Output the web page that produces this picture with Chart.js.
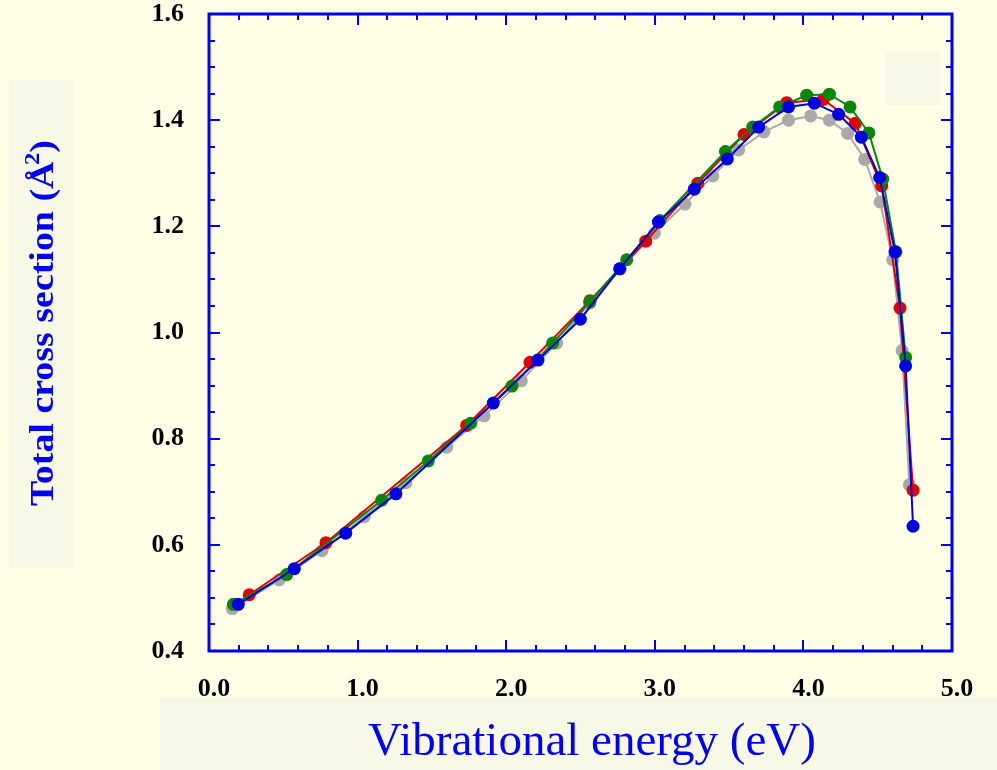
<!DOCTYPE html>
<html>
<head>
<meta charset="utf-8">
<script src="https://cdn.jsdelivr.net/npm/chart.js@4.4.1/dist/chart.umd.min.js"></script>
<style>
  html, body { margin: 0; padding: 0; background: #ffffe8; }
  canvas { display: block; }
</style>
</head>
<body>
<canvas id="chart" width="997" height="770"></canvas>
<script>
// values (x = vibrational energy eV, y = cross section)
const grayX = [0.157, 0.473, 0.760, 1.045, 1.326, 1.600, 1.851, 2.102, 2.340, 2.560, 2.770, 2.997, 3.203, 3.390, 3.565, 3.735, 3.900, 4.049, 4.175, 4.298, 4.413, 4.516, 4.601, 4.664, 4.713];
const grayY = [0.480, 0.534, 0.589, 0.653, 0.717, 0.784, 0.843, 0.909, 0.980, 1.055, 1.120, 1.187, 1.242, 1.295, 1.344, 1.378, 1.400, 1.408, 1.400, 1.375, 1.326, 1.246, 1.137, 0.966, 0.713];

const redX = [0.271, 0.787, 1.734, 2.160, 2.564, 2.939, 3.289, 3.600, 3.888, 4.134, 4.349, 4.527, 4.650, 4.738];
const redY = [0.506, 0.604, 0.825, 0.944, 1.060, 1.172, 1.281, 1.373, 1.433, 1.439, 1.394, 1.276, 1.046, 0.703];

const greenX = [0.164, 0.523, 1.162, 1.476, 1.761, 2.039, 2.313, 2.564, 2.811, 3.035, 3.475, 3.659, 3.840, 4.022, 4.175, 4.314, 4.441, 4.534, 4.623, 4.688];
const greenY = [0.488, 0.544, 0.684, 0.758, 0.829, 0.899, 0.980, 1.058, 1.137, 1.211, 1.341, 1.387, 1.425, 1.447, 1.449, 1.425, 1.376, 1.289, 1.152, 0.953];

const blueX = [0.197, 0.574, 0.920, 1.258, 1.913, 2.214, 2.499, 2.763, 3.024, 3.266, 3.488, 3.699, 3.900, 4.074, 4.237, 4.390, 4.513, 4.616, 4.688, 4.738];
const blueY = [0.488, 0.555, 0.622, 0.696, 0.867, 0.948, 1.025, 1.120, 1.208, 1.270, 1.327, 1.387, 1.425, 1.432, 1.411, 1.368, 1.292, 1.152, 0.937, 0.635];

const xTicks = [0, 1, 2, 3, 4, 5];
const yTicks = [0.4, 0.6, 0.8, 1.0, 1.2, 1.4, 1.6];

const AXIS = "#0000ee";
const PATCH = "#f8f8e6";
const SERIF = '"Liberation Serif", "Times New Roman", serif';

const toPoints = (xs, ys) => xs.map((x, i) => ({ x: x, y: ys[i] }));

const series = (pts, color) => ({
  data: pts,
  showLine: true,
  borderColor: color,
  backgroundColor: color,
  borderWidth: 2,
  pointRadius: 6.5,
  pointBorderWidth: 0,
  pointHoverRadius: 6.5,
  tension: 0,
});

// patches, frame with inward ticks, axis titles
const decorations = {
  id: "decorations",
  beforeDraw(chart) {
    const ctx = chart.ctx;
    ctx.save();
    ctx.fillStyle = "#ffffe8";
    ctx.fillRect(0, 0, chart.width, chart.height);
    ctx.fillStyle = PATCH;
    ctx.fillRect(9, 80, 65, 488);
    ctx.fillRect(160, 698, 837, 72);
    ctx.fillRect(885, 51, 55, 54);
    ctx.restore();
  },
  afterDraw(chart) {
    const { ctx, chartArea: a } = chart;
    const { x, y } = chart.scales;
    ctx.save();
    ctx.strokeStyle = AXIS;
    ctx.lineWidth = 2;
    ctx.beginPath();
    for (let i = 0; i <= 25; i++) {
      const px = Math.round(x.getPixelForValue(i * 0.2));
      const len = i % 5 === 0 ? 11 : 6;
      ctx.moveTo(px, a.bottom);
      ctx.lineTo(px, a.bottom - len);
      ctx.moveTo(px, a.top);
      ctx.lineTo(px, a.top + len);
    }
    for (let i = 8; i <= 32; i++) {
      const py = Math.round(y.getPixelForValue(i * 0.05));
      const len = i % 4 === 0 ? 11 : 6;
      ctx.moveTo(a.left, py);
      ctx.lineTo(a.left + len, py);
      ctx.moveTo(a.right, py);
      ctx.lineTo(a.right - len, py);
    }
    ctx.stroke();
    ctx.lineWidth = 3;
    ctx.strokeRect(a.left, a.top, a.right - a.left, a.bottom - a.top);

    // x title
    ctx.fillStyle = AXIS;
    ctx.font = "47px " + SERIF;
    ctx.textAlign = "center";
    ctx.textBaseline = "alphabetic";
    ctx.fillText("Vibrational energy (eV)", 592, 755);

    // y title, rotated, stretched along its length like the reference
    const main = "Total cross section (Å";
    ctx.font = "bold 34px " + SERIF;
    const w1 = ctx.measureText(main).width - 3;
    const w3 = ctx.measureText(")").width;
    ctx.font = "bold 22px " + SERIF;
    const w2 = ctx.measureText("2").width;
    const total = w1 + w2 + w3;
    const stretch = 366 / total;
    ctx.translate(53, 323);
    ctx.rotate(-Math.PI / 2);
    ctx.scale(stretch, 1);
    ctx.textAlign = "left";
    let cx = -total / 2;
    ctx.font = "bold 34px " + SERIF;
    ctx.fillText(main, cx, 0);
    cx += w1;
    ctx.font = "bold 22px " + SERIF;
    ctx.fillText("2", cx, -14);
    cx += w2;
    ctx.font = "bold 34px " + SERIF;
    ctx.fillText(")", cx, 0);
    ctx.restore();
  },
};

new Chart(document.getElementById("chart"), {
  type: "scatter",
  data: {
    // first dataset is drawn on top
    datasets: [
      series(toPoints(blueX, blueY), "#0000dd"),
      series(toPoints(greenX, greenY), "#0b850b"),
      series(toPoints(redX, redY), "#e00000"),
      series(toPoints(grayX, grayY), "#a9a9a9"),
    ],
  },
  options: {
    responsive: false,
    animation: false,
    devicePixelRatio: 1,
    layout: { padding: { left: 0, right: 45, top: 14, bottom: 0 } },
    plugins: {
      legend: { display: false },
      tooltip: { enabled: false },
    },
    scales: {
      x: {
        type: "linear",
        min: 0,
        max: 5,
        afterBuildTicks: (s) => { s.ticks = xTicks.map((v) => ({ value: v })); },
        afterFit: (s) => { s.height = 119; },
        grid: { display: false, drawTicks: false },
        border: { display: false },
        ticks: {
          color: "#000",
          padding: 25,
          labelOffset: 5,
          maxRotation: 0,
          font: { family: SERIF, weight: "bold", size: 26, lineHeight: 1 },
          callback: (v) => Number(v).toFixed(1),
        },
      },
      y: {
        type: "linear",
        min: 0.4,
        max: 1.6,
        afterBuildTicks: (s) => { s.ticks = yTicks.map((v) => ({ value: v })); },
        afterFit: (s) => { s.width = 209; },
        // tick marks are hidden; their length only spaces the labels from the axis
        grid: { display: false, drawTicks: true, tickLength: 25 },
        border: { display: false },
        ticks: {
          color: "#000",
          padding: 0,
          font: { family: SERIF, weight: "bold", size: 26, lineHeight: 1 },
          callback: (v) => Number(v).toFixed(1),
        },
      },
    },
  },
  plugins: [decorations],
});
</script>
</body>
</html>
